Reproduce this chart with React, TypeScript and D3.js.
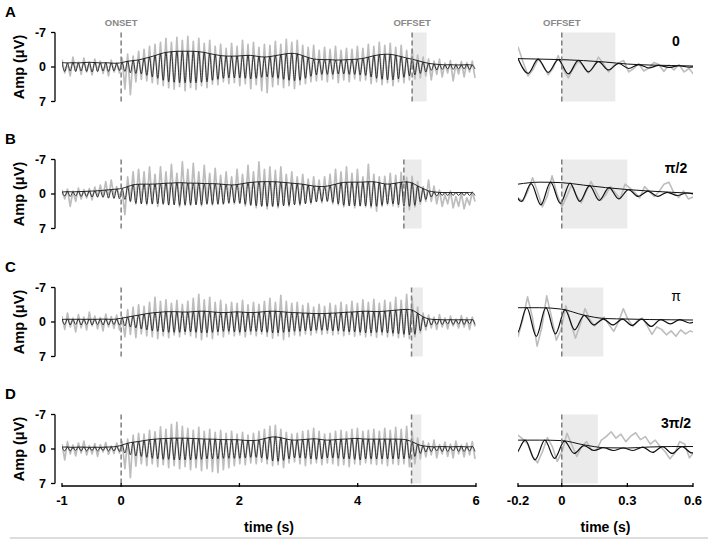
import React from 'react';
import * as d3 from 'd3';

// ---------- data (µV, negative = up) ----------
const leftStart = -1;          // s, time of first cycle peak
const leftPeriod = 0.0925;     // s, oscillation period

const blackAmpA = [0.9,0.8,0.9,0.8,0.9,1.0,0.9,0.8,0.9,0.8,0.7,
  0.9,1.2,1.3,1.4,1.7,2.0,2.3,2.7,3.0,3.1,3.2,3.2,3.2,3.2,3.1,3.0,2.7,2.5,2.3,2.2,2.2,2.2,2.3,2.4,2.3,2.1,2.0,2.1,2.3,2.5,2.7,2.8,2.7,2.3,1.9,1.6,1.5,1.5,1.5,1.4,1.4,1.5,1.5,1.6,1.7,2.0,2.3,2.5,2.6,2.6,2.4,2.1,1.8,1.6,1.3,1.0,0.7,0.6,0.5,0.4,0.5,0.4,0.4,0.5,0.4];
const grayPeakA = [-1.5,-0.8,-2.0,-1.0,-1.8,-0.9,-1.6,-1.2,-0.7,-1.4,-0.9,
  -1.8,-2.6,-2.2,-3.2,-3.6,-4.2,-4.6,-5.0,-5.8,-5.0,-6.0,-5.4,-6.2,-5.2,-5.8,-4.8,-5.4,-4.2,-4.6,-3.8,-4.8,-4.2,-5.4,-4.6,-5.0,-4.0,-4.6,-4.4,-5.2,-4.6,-5.6,-5.0,-5.4,-4.4,-4.0,-4.4,-3.4,-4.0,-3.6,-4.2,-3.4,-3.8,-3.6,-4.2,-3.8,-4.6,-4.2,-5.0,-4.4,-4.8,-4.0,-4.4,-3.4,-3.6,-2.4,-2.0,-1.6,-1.2,-1.6,-0.8,-1.3,-0.6,-1.1,-0.9,-1.2];
const grayTroughA = [1.2,1.8,0.8,1.5,1.0,1.6,0.9,1.3,1.8,1.0,1.2,
  4.5,5.6,3.0,2.5,2.8,3.2,3.5,3.8,4.2,4.5,4.0,4.8,4.2,4.6,3.8,4.2,3.5,3.6,3.0,3.4,3.2,3.8,3.4,4.4,3.6,4.8,5.2,4.0,3.6,4.2,3.8,4.4,3.6,3.4,3.0,2.8,2.6,3.0,2.4,3.2,2.6,3.0,2.4,2.8,2.6,3.4,3.0,3.6,3.2,3.8,3.0,3.2,2.6,2.4,2.2,1.8,2.6,1.5,2.0,1.2,2.8,1.4,2.0,1.0,2.2];

const blackAmpB = [0.4,0.5,0.4,0.5,0.5,0.6,0.6,0.7,0.8,0.9,1.0,
  1.1,1.5,1.9,2.0,2.0,2.0,2.0,2.1,2.2,2.2,2.3,2.3,2.2,2.2,2.2,2.1,2.1,2.1,2.0,1.9,1.8,1.9,2.1,2.3,2.4,2.5,2.5,2.5,2.5,2.4,2.3,2.2,2.1,2.0,1.8,1.6,1.5,1.5,1.7,2.0,2.3,2.4,2.4,2.4,2.4,2.5,2.5,2.3,2.0,2.0,2.2,2.4,2.5,2.3,1.6,1.1,0.6,0.4,0.3,0.3,0.3,0.3,0.3,0.3,0.3];
const grayPeakB = [-0.8,-1.0,-0.6,-1.2,-0.9,-1.1,-1.4,-1.8,-2.5,-2.8,-1.5,
  -0.5,-3.5,-4.5,-5.0,-4.5,-5.5,-4.0,-5.5,-4.5,-6.0,-4.2,-6.5,-5.0,-6.2,-4.5,-5.8,-4.2,-5.2,-3.8,-4.5,-3.5,-5.0,-4.0,-5.8,-4.5,-6.5,-5.0,-5.5,-4.8,-5.5,-4.0,-4.5,-3.5,-4.0,-3.0,-3.5,-2.8,-3.5,-4.0,-5.0,-4.5,-5.5,-4.2,-5.0,-3.5,-6.0,-4.0,-3.5,-3.6,-4.2,-3.8,-4.4,-3.4,-3.6,-2.5,-1.5,-2.8,-1.6,-0.8,0.2,-0.6,0.5,-0.2,0.8,-0.4];
const grayTroughB = [1.0,2.5,1.5,1.0,0.8,1.2,0.6,0.5,0.8,0.5,0.5,
  4.2,1.5,2.0,1.8,2.2,2.0,2.5,1.8,2.2,2.0,2.6,1.8,2.3,2.0,2.4,1.7,2.2,1.9,2.1,1.6,2.0,1.8,2.4,2.2,2.8,2.4,3.0,2.5,2.8,2.2,2.5,2.0,2.3,1.8,2.0,1.5,1.8,1.4,2.0,2.2,2.6,2.3,2.8,2.4,2.6,2.8,3.5,2.5,2.2,2.4,2.6,2.8,3.2,2.6,2.0,1.5,1.5,2.0,2.5,2.0,2.8,2.5,3.0,2.2,1.5];

const blackAmpC = [0.5,0.6,0.5,0.6,0.5,0.6,0.5,0.6,0.6,0.5,0.6,
  0.8,1.0,1.2,1.4,1.6,1.8,1.9,2.0,2.1,2.1,2.1,2.0,2.0,2.1,2.2,2.2,2.1,2.0,1.9,1.9,2.0,2.1,2.0,1.9,1.9,2.0,2.1,2.2,2.2,2.1,2.0,1.9,1.9,1.8,1.8,1.7,1.7,1.7,1.8,1.8,1.9,2.0,2.0,2.1,2.2,2.2,2.1,2.1,2.2,2.3,2.4,2.5,2.6,2.5,1.8,1.0,0.6,0.5,0.5,0.4,0.5,0.4,0.5,0.4,0.5];
const grayPeakC = [-1.2,-1.8,-0.8,-1.5,-1.0,-2.0,-1.2,-0.9,-1.6,-1.1,-1.4,
  -1.0,-2.5,-3.0,-3.5,-3.2,-4.0,-5.0,-4.2,-4.5,-3.8,-4.4,-3.6,-4.2,-4.8,-5.6,-4.5,-5.0,-4.0,-4.4,-3.6,-4.0,-3.8,-4.4,-3.5,-4.0,-3.6,-4.2,-4.8,-4.0,-5.4,-4.2,-3.8,-4.0,-3.4,-3.8,-3.0,-3.6,-3.2,-3.8,-3.4,-4.0,-3.5,-4.2,-3.8,-4.5,-4.0,-4.6,-3.8,-4.4,-4.0,-5.0,-4.4,-5.6,-4.8,-3.0,-1.8,-1.4,-1.0,-1.5,-0.8,-1.2,-0.6,-1.3,-0.9,-1.0];
const grayTroughC = [1.5,1.0,2.0,1.2,1.6,0.8,1.4,1.8,1.0,1.3,1.6,
  3.0,2.5,3.2,2.4,2.8,3.0,3.4,2.8,3.2,2.6,3.0,2.5,2.8,3.2,3.6,3.0,3.4,2.6,3.0,2.4,2.8,2.6,3.0,2.5,2.8,2.4,2.9,3.3,2.8,3.6,3.0,2.6,2.8,2.4,2.6,2.2,2.5,2.3,2.6,2.4,2.8,2.5,2.9,2.6,3.0,2.8,3.1,2.6,3.0,2.8,3.2,3.0,3.4,3.0,2.2,1.6,1.2,1.5,1.0,1.4,0.8,1.2,1.0,1.5,0.9];

const blackAmpD = [0.4,0.4,0.3,0.4,0.4,0.3,0.4,0.3,0.4,0.4,0.5,
  0.8,1.2,1.4,1.5,1.7,1.9,2.0,2.1,2.1,2.2,2.2,2.2,2.2,2.1,2.1,2.0,2.0,2.0,1.9,1.9,1.9,1.9,1.8,1.7,1.7,1.8,2.1,2.4,2.5,2.3,2.0,1.8,1.8,1.9,2.0,2.1,2.0,1.8,1.8,1.9,2.0,2.0,2.1,2.2,2.0,2.0,2.0,2.0,2.0,2.0,2.0,2.0,1.9,1.5,0.9,0.6,0.5,0.4,0.5,0.5,0.4,0.5,0.5,0.4,0.5];
const grayPeakD = [-1.0,-1.5,-0.8,-1.2,-1.6,-0.7,-1.1,-0.9,-1.3,-0.6,-1.2,
  -1.5,-2.0,-2.8,-3.2,-3.0,-3.8,-3.5,-4.5,-4.0,-5.0,-5.4,-4.6,-4.2,-3.8,-4.4,-3.6,-4.0,-3.4,-3.8,-3.2,-3.6,-3.0,-3.4,-2.8,-3.2,-3.6,-4.0,-4.6,-4.8,-4.0,-3.4,-3.0,-3.2,-3.6,-3.8,-4.2,-3.6,-3.0,-3.2,-3.6,-3.8,-3.5,-4.0,-4.2,-3.6,-3.8,-4.0,-3.6,-4.2,-3.8,-4.4,-4.0,-4.6,-3.4,-2.2,-1.6,-1.2,-1.8,-0.9,-1.4,-1.0,-1.6,-0.8,-1.2,-1.5];
const grayTroughD = [2.2,1.0,1.4,0.8,1.2,1.0,1.5,0.6,1.1,0.9,0.8,
  4.0,5.8,3.5,3.0,3.4,3.0,3.6,3.2,3.8,3.4,4.0,3.6,4.2,3.8,4.4,4.0,4.6,4.8,4.2,3.8,3.4,3.0,3.2,2.8,3.0,2.6,3.0,3.4,3.2,3.8,2.8,2.6,3.0,3.4,3.0,2.8,3.2,2.8,3.0,3.4,3.2,3.6,3.0,3.2,2.8,3.0,3.2,3.0,3.4,3.0,3.2,3.0,3.6,3.0,2.0,1.6,1.2,1.8,1.0,1.5,1.8,1.0,1.6,1.2,2.0];

// offset markers (s) and shaded windows (s)
const offsetTimes = [4.92, 4.78, 4.91, 4.91];
const shadeDurations = [0.245, 0.3, 0.19, 0.165];

// right panels: black extremes on a half-cycle grid
const rightBlackStart = [-0.2, -0.229, -0.2475, -0.2566];
const rightHalfPeriod = [0.046, 0.0445, 0.04375, 0.0448];
const rightBlackA = [-1.7,1.3,-1.6,1.1,-1.5,1.4,-1.35,1.0,-1.1,0.6,-0.75,0.3,-0.5,0.2,-0.35,0.1,-0.25,0.05,-0.2];
const rightBlackB = [-2.0,1.5,-2.1,2.2,-2.4,1.9,-2.2,1.5,-1.7,1.3,-1.3,1.0,-0.9,0.5,-0.6,0.5,-0.35,0.3,-0.2,0.2];
const rightBlackC = [-2.9,2.2,-2.9,2.9,-2.9,2.4,-2.5,1.6,-1.35,0.6,-0.6,0.6,-0.6,0.7,-0.6,0.9,-0.5,0.4,-0.5,0.2,-0.4];
const rightBlackD = [-1.8,1.0,-1.8,2.2,-1.8,1.9,-1.6,0.9,-0.7,0.3,-0.25,0.3,-0.2,0.3,-0.4,0.7,-0.5,0.9,-0.5,0.8,-0.5];
// right panels: gray trace on a quarter-cycle grid from -0.2 s
const rightGrayA = [-4.1,-1.0,1.8,0.5,-1.6,-0.3,1.6,0.2,-2.3,0.5,2.2,0.3,-1.2,-0.2,1.2,0.0,-2.0,-0.6,1.0,-0.3,-0.8,-1.3,1.0,0.3,-0.7,0.8,0.2,-0.9,-0.5,0.9,-0.4,0.6,-0.5,1.0,0.3,1.6];
const rightGrayB = [0.8,1.5,-0.5,-3.3,-0.5,2.6,0.5,-3.7,0.0,2.6,0.5,-1.8,0.3,1.8,-0.5,-2.5,-0.6,1.3,0.2,-1.5,-0.2,0.9,-2.0,-1.2,-0.3,0.8,-1.5,-0.5,0.5,-0.5,-2.0,-2.4,-0.3,0.7,-0.6,1.0,0.6];
const rightGrayC = [3.0,-0.5,-5.1,-1.0,4.9,1.0,-5.3,-1.0,3.7,1.5,-3.3,0.0,3.3,0.5,-2.7,-0.5,0.8,-0.2,-1.0,0.5,1.9,0.0,-2.7,-0.5,0.9,-0.3,-0.8,0.8,2.5,1.0,1.5,2.6,1.8,2.9,1.6,2.4,1.8,2.2];
const rightGrayD = [-2.8,-2.0,-1.0,1.5,2.8,0.5,-2.3,-0.5,2.5,0.5,-3.2,-0.8,1.5,-0.5,-1.5,0.2,0.3,-1.8,-2.5,-3.5,-2.2,-3.0,-1.5,-2.6,-3.3,-1.9,-2.5,-1.0,-1.8,-0.5,0.5,2.0,0.8,-1.5,-1.0,1.8,0.5];
// right panels: envelope sampled every 0.1 s
const rightEnvTimes = [-0.2,-0.1,0,0.1,0.2,0.3,0.4,0.5,0.6];
const rightEnvA = [-1.7,-1.6,-1.5,-1.3,-1.0,-0.6,-0.4,-0.3,-0.2];
const rightEnvB = [-2.0,-2.4,-2.3,-1.8,-1.3,-0.9,-0.6,-0.35,-0.15];
const rightEnvC = [-2.9,-2.9,-2.6,-1.4,-0.7,-0.6,-0.5,-0.45,-0.4];
const rightEnvD = [-1.8,-1.8,-1.7,-0.85,-0.25,-0.2,-0.4,-0.5,-0.5];

const panelLetters = ['A', 'B', 'C', 'D'];
const phaseLabels = ['0', 'π/2', 'π', '3π/2'];
const yTicks = [-7, 0, 7];
const yTickLabels = ['-7', '0', '7'];
const leftTicks = [-1, 0, 2, 4, 6];
const leftTickLabels = ['-1', '0', '2', '4', '6'];
const rightTicks = [-0.2, 0, 0.3, 0.6];
const rightTickLabels = ['-0.2', '0', '0.3', '0.6'];

const rowsData = [
  { amp: blackAmpA, gp: grayPeakA, gt: grayTroughA, rb: rightBlackA, rg: rightGrayA, re: rightEnvA },
  { amp: blackAmpB, gp: grayPeakB, gt: grayTroughB, rb: rightBlackB, rg: rightGrayB, re: rightEnvB },
  { amp: blackAmpC, gp: grayPeakC, gt: grayTroughC, rb: rightBlackC, rg: rightGrayC, re: rightEnvC },
  { amp: blackAmpD, gp: grayPeakD, gt: grayTroughD, rb: rightBlackD, rg: rightGrayD, re: rightEnvD },
];

const FONT = "'Liberation Sans', Arial, sans-serif";
const GRAY = '#bdbdbd';
const DASH = '#7f7f7f';

export default function App() {
  const W = 708, H = 541;
  const xL = d3.scaleLinear().domain([-1, 6]).range([62, 476]);
  const xR = d3.scaleLinear().domain([-0.2, 0.6]).range([518, 693]);
  const rowZero = [67, 194, 322, 449];
  const half = 34.5;
  const axisY = 486;

  return (
    <svg width={W} height={H} style={{ position: 'absolute', left: 0, top: 0, background: '#fff' }}
      fontFamily={FONT}>
      <defs>
        <clipPath id="clipL"><rect x={xL(-1)} y={0} width={xL(6) - xL(-1)} height={H} /></clipPath>
        <clipPath id="clipR"><rect x={xR(-0.2)} y={0} width={xR(0.6) - xR(-0.2)} height={H} /></clipPath>
      </defs>
      <rect width={W} height={H} fill="#fff" />
      {rowsData.map((r, i) => {
        const y = d3.scaleLinear().domain([-7, 7]).range([rowZero[i] - half, rowZero[i] + half]);
        const lineL = d3.line<[number, number]>().x(d => xL(d[0])).y(d => y(d[1]));
        const lineR = d3.line<[number, number]>().x(d => xR(d[0])).y(d => y(d[1]));
        const tk = (k: number) => leftStart + k * leftPeriod;
        const blackPts: [number, number][] = r.amp.flatMap((a, k) => [[tk(k), -a], [tk(k) + leftPeriod / 2, a]] as [number, number][]);
        const grayPts: [number, number][] = r.gp.flatMap((p, k) => [[tk(k), p], [tk(k) + leftPeriod / 2, r.gt[k]]] as [number, number][]);
        const envPts: [number, number][] = r.amp.map((a, k) => [tk(k), -a]);
        const hp = rightHalfPeriod[i];
        const rbPts: [number, number][] = r.rb.map((v, j) => [rightBlackStart[i] + j * hp, v]);
        const rgPts: [number, number][] = r.rg.map((v, j) => [-0.2 + j * hp / 2, v]);
        const rePts: [number, number][] = r.re.map((v, j) => [rightEnvTimes[j], v]);
        const off = offsetTimes[i];
        const sd = shadeDurations[i];
        const top = y(-7), bot = y(7);
        const z = rowZero[i];
        return (
          <g key={i}>
            {/* shaded windows */}
            <rect x={xL(off)} y={top} width={xL(off + sd) - xL(off)} height={bot - top} fill="#ebebeb" />
            <rect x={xR(0)} y={top} width={xR(sd) - xR(0)} height={bot - top} fill="#ebebeb" />
            {/* left traces */}
            <g clipPath="url(#clipL)">
              <path d={lineL.curve(d3.curveLinear)(grayPts) || ''} fill="none" stroke={GRAY} strokeWidth={1.7} strokeLinejoin="round" />
              <path d={lineL.curve(d3.curveMonotoneX)(blackPts) || ''} fill="none" stroke="#111" strokeWidth={0.8} />
              <path d={lineL.curve(d3.curveBasis)(envPts) || ''} fill="none" stroke="#111" strokeWidth={0.9} />
            </g>
            {/* right traces */}
            <g clipPath="url(#clipR)">
              <path d={lineR.curve(d3.curveLinear)(rgPts) || ''} fill="none" stroke={GRAY} strokeWidth={1.6} strokeLinejoin="round" />
              <path d={lineR.curve(d3.curveMonotoneX)(rbPts) || ''} fill="none" stroke="#111" strokeWidth={1.2} />
              <path d={lineR.curve(d3.curveMonotoneX)(rePts) || ''} fill="none" stroke="#111" strokeWidth={1} />
            </g>
            {/* dashed markers */}
            <line x1={xL(0)} x2={xL(0)} y1={top} y2={bot} stroke={DASH} strokeWidth={1.5} strokeDasharray="5,3" />
            <line x1={xL(off)} x2={xL(off)} y1={top} y2={bot} stroke={DASH} strokeWidth={1.5} strokeDasharray="5,3" />
            <line x1={xR(0)} x2={xR(0)} y1={top} y2={bot} stroke={DASH} strokeWidth={1.5} strokeDasharray="5,3" />
            {/* y axis */}
            <line x1={55} x2={55} y1={top} y2={bot} stroke="#000" strokeWidth={1.3} />
            {yTicks.map((t, j) => (
              <g key={j}>
                <line x1={51} x2={55} y1={y(t)} y2={y(t)} stroke="#000" strokeWidth={1.3} />
                <text x={46} y={y(t)} dy="0.35em" textAnchor="end" fontSize={12.5} fontWeight="bold" fill="#000">{yTickLabels[j]}</text>
              </g>
            ))}
            <text transform={`translate(24,${z}) rotate(-90)`} textAnchor="middle" fontSize={14.5} fontWeight="bold" fill="#000">Amp (μV)</text>
            <text x={5} y={z - 50} fontSize={15} fontWeight="bold" fill="#000">{panelLetters[i]}</text>
            <text x={676} y={z - 21} textAnchor="middle" fontSize={14} fontWeight={i === 2 ? 'normal' : 'bold'} fill="#000">{phaseLabels[i]}</text>
          </g>
        );
      })}
      {/* onset/offset labels */}
      <text x={xL(0)} y={26} textAnchor="middle" fontSize={9.5} fontWeight="bold" fill="#888">ONSET</text>
      <text x={xL(offsetTimes[0])} y={26} textAnchor="middle" fontSize={9.5} fontWeight="bold" fill="#888">OFFSET</text>
      <text x={xR(0)} y={26} textAnchor="middle" fontSize={9.5} fontWeight="bold" fill="#888">OFFSET</text>
      {/* x axes */}
      <line x1={xL(-1)} x2={xL(6)} y1={axisY} y2={axisY} stroke="#000" strokeWidth={1.3} />
      {leftTicks.map((t, j) => (
        <g key={'l' + j}>
          <line x1={xL(t)} x2={xL(t)} y1={axisY - 3} y2={axisY + 1} stroke="#000" strokeWidth={1.3} />
          <text x={xL(t)} y={505} textAnchor="middle" fontSize={13} fontWeight="bold" fill="#000">{leftTickLabels[j]}</text>
        </g>
      ))}
      <line x1={xR(-0.2)} x2={xR(0.6)} y1={axisY} y2={axisY} stroke="#000" strokeWidth={1.3} />
      {rightTicks.map((t, j) => (
        <g key={'r' + j}>
          <line x1={xR(t)} x2={xR(t)} y1={axisY - 3} y2={axisY + 1} stroke="#000" strokeWidth={1.3} />
          <text x={xR(t)} y={505} textAnchor="middle" fontSize={13} fontWeight="bold" fill="#000">{rightTickLabels[j]}</text>
        </g>
      ))}
      <text x={(xL(-1) + xL(6)) / 2} y={532} textAnchor="middle" fontSize={14} fontWeight="bold" fill="#000">time (s)</text>
      <text x={(xR(-0.2) + xR(0.6)) / 2} y={532} textAnchor="middle" fontSize={14} fontWeight="bold" fill="#000">time (s)</text>
      <line x1={10} x2={708} y1={538} y2={538} stroke="#bbb" strokeWidth={1.2} />
    </svg>
  );
}
